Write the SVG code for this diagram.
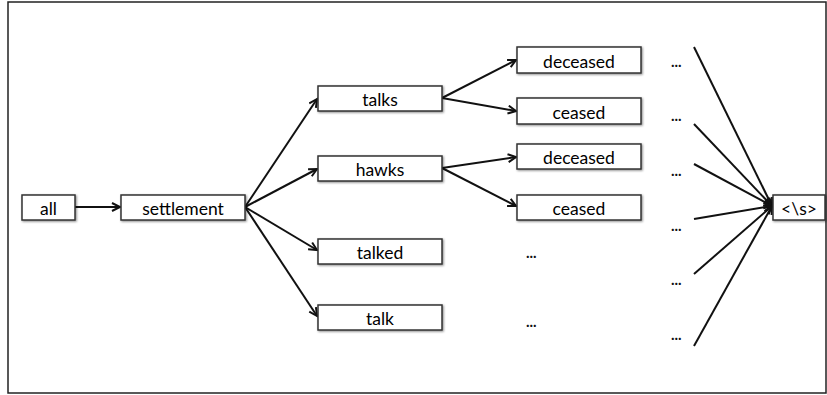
<svg xmlns="http://www.w3.org/2000/svg" width="827" height="395" viewBox="0 0 827 395">
<defs>
<marker id="arr" markerWidth="12" markerHeight="12" refX="9" refY="5" orient="auto" markerUnits="userSpaceOnUse">
<path d="M1,1 L9,5 L1,9" fill="none" stroke="#111" stroke-width="2"/>
</marker>
<filter id="sh" x="-10%" y="-20%" width="130%" height="160%">
<feDropShadow dx="1" dy="1" stdDeviation="0.8" flood-color="#000" flood-opacity="0.45"/>
</filter>
</defs>
<style>
.box{fill:#fff;stroke:#333;stroke-width:1.5;filter:url(#sh)}
.t{font-family:Lato,"Open Sans","Liberation Sans",sans-serif;font-size:17.5px;fill:#000;text-anchor:middle}
.d{font-family:Lato,"Liberation Sans",sans-serif;font-size:15px;fill:#111;font-weight:bold}
.c{stroke:#111;stroke-width:2;fill:none}
</style>
<rect x="8" y="2" width="818" height="391" fill="#fff" stroke="#222" stroke-width="1.5"/>
<g id="connectors">
<line class="c" x1="75" y1="207" x2="120" y2="207" marker-end="url(#arr)"/>
<line class="c" x1="245" y1="207" x2="317" y2="99" marker-end="url(#arr)"/>
<line class="c" x1="245" y1="207" x2="317" y2="169" marker-end="url(#arr)"/>
<line class="c" x1="245" y1="207" x2="317" y2="250" marker-end="url(#arr)"/>
<line class="c" x1="245" y1="207" x2="317" y2="316" marker-end="url(#arr)"/>
<line class="c" x1="442" y1="98" x2="516" y2="60" marker-end="url(#arr)"/>
<line class="c" x1="442" y1="98" x2="516" y2="111" marker-end="url(#arr)"/>
<line class="c" x1="442" y1="168" x2="516" y2="157" marker-end="url(#arr)"/>
<line class="c" x1="442" y1="168" x2="516" y2="206" marker-end="url(#arr)"/>
<line class="c" x1="694" y1="47" x2="772" y2="206" marker-end="url(#arr)"/>
<line class="c" x1="694" y1="124" x2="772" y2="206" marker-end="url(#arr)"/>
<line class="c" x1="694" y1="164" x2="772" y2="206" marker-end="url(#arr)"/>
<line class="c" x1="694" y1="219" x2="772" y2="206" marker-end="url(#arr)"/>
<line class="c" x1="694" y1="274" x2="772" y2="206" marker-end="url(#arr)"/>
<line class="c" x1="694" y1="346" x2="772" y2="206" marker-end="url(#arr)"/>
</g>
<g id="n-all"><rect class="box" x="22" y="195" width="53" height="25"/><text class="t" x="48.5" y="215">all</text></g>
<g id="n-settlement"><rect class="box" x="121" y="195" width="124" height="25"/><text class="t" x="183" y="215">settlement</text></g>
<g id="n-talks"><rect class="box" x="318" y="86" width="124" height="25"/><text class="t" x="380" y="106">talks</text></g>
<g id="n-hawks"><rect class="box" x="318" y="156" width="124" height="25"/><text class="t" x="380" y="176">hawks</text></g>
<g id="n-talked"><rect class="box" x="318" y="239" width="124" height="25"/><text class="t" x="380" y="259">talked</text></g>
<g id="n-talk"><rect class="box" x="318" y="305" width="124" height="25"/><text class="t" x="380" y="325">talk</text></g>
<g id="n-deceased1"><rect class="box" x="517" y="47" width="124" height="26"/><text class="t" x="579" y="68">deceased</text></g>
<g id="n-ceased1"><rect class="box" x="517" y="98" width="124" height="26"/><text class="t" x="579" y="119">ceased</text></g>
<g id="n-deceased2"><rect class="box" x="517" y="144" width="124" height="25"/><text class="t" x="579" y="164">deceased</text></g>
<g id="n-ceased2"><rect class="box" x="517" y="195" width="124" height="25"/><text class="t" x="579" y="215">ceased</text></g>
<g id="n-end"><rect class="box" x="773" y="195" width="52" height="25"/><text class="t" x="799" y="215">&lt;\s&gt;</text></g>
<g id="ellipses">
<text class="d" x="671" y="67">...</text>
<text class="d" x="671" y="121">...</text>
<text class="d" x="671" y="176">...</text>
<text class="d" x="671" y="231">...</text>
<text class="d" x="671" y="285">...</text>
<text class="d" x="671" y="340">...</text>
<text class="d" x="526" y="258">...</text>
<text class="d" x="526" y="327">...</text>
</g>
</svg>
